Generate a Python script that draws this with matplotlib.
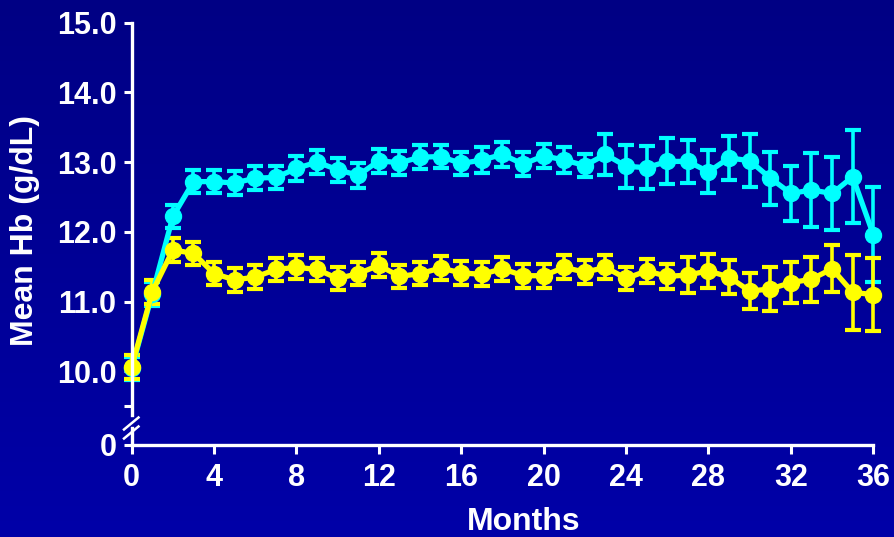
import numpy as np
import matplotlib
matplotlib.use("Agg")
import matplotlib.pyplot as plt
from matplotlib.colors import LinearSegmentedColormap
from matplotlib.lines import Line2D

# ---- data -------------------------------------------------------------
months = list(range(37))

hb_cyan = [10.04, 11.11, 12.22, 12.72, 12.72, 12.70, 12.77, 12.78, 12.91, 13.00,
           12.89, 12.81, 13.02, 12.99, 13.07, 13.08, 12.98, 13.03, 13.11, 12.97,
           13.09, 13.03, 12.95, 13.11, 12.94, 12.92, 13.01, 13.01, 12.86, 13.06,
           13.02, 12.77, 12.55, 12.60, 12.55, 12.79, 11.96]
err_cyan = [0.17, 0.17, 0.17, 0.17, 0.17, 0.17, 0.17, 0.17, 0.18, 0.17,
            0.17, 0.18, 0.17, 0.17, 0.17, 0.17, 0.17, 0.18, 0.18, 0.17,
            0.17, 0.18, 0.17, 0.30, 0.31, 0.31, 0.33, 0.31, 0.31, 0.32,
            0.38, 0.38, 0.39, 0.53, 0.53, 0.67, 0.68]

hb_yellow = [10.06, 11.14, 11.74, 11.69, 11.40, 11.31, 11.35, 11.46, 11.49, 11.46,
             11.33, 11.40, 11.52, 11.36, 11.40, 11.48, 11.41, 11.39, 11.47, 11.37,
             11.37, 11.49, 11.42, 11.49, 11.33, 11.44, 11.36, 11.38, 11.44, 11.35,
             11.15, 11.18, 11.27, 11.32, 11.47, 11.13, 11.10]
err_yellow = [0.17, 0.17, 0.17, 0.17, 0.17, 0.17, 0.17, 0.17, 0.17, 0.17,
              0.17, 0.17, 0.17, 0.17, 0.17, 0.17, 0.17, 0.17, 0.17, 0.17,
              0.17, 0.17, 0.17, 0.17, 0.17, 0.17, 0.18, 0.26, 0.24, 0.24,
              0.26, 0.32, 0.29, 0.32, 0.34, 0.54, 0.52]

y_ticks = [9.5, 10, 11, 12, 13, 14, 15]
y_tick_labels = ["", "10.0", "11.0", "12.0", "13.0", "14.0", "15.0"]
x_ticks = list(range(0, 37, 4))

CYAN = "#00FFFF"
YELLOW = "#FFFF00"
WHITE = "#FFFFFF"

plt.rcParams["font.family"] = ["Liberation Sans", "DejaVu Sans"]
plt.rcParams["font.weight"] = "bold"

W, H = 895, 537
fig = plt.figure(figsize=(W / 100, H / 100), dpi=100)


def px_box(x0, y0, x1, y1):
    """Axes rectangle from pixel edges (origin at top-left)."""
    return [x0 / W, 1 - y1 / H, (x1 - x0) / W, (y1 - y0) / H]


# slide-style vertical gradient background
bg = fig.add_axes([0, 0, 1, 1], zorder=-10)
grad = np.linspace(0, 1, 256).reshape(-1, 1)
cmap = LinearSegmentedColormap.from_list("slide", ["#000084", "#0000A8"])
bg.imshow(grad, aspect="auto", cmap=cmap, extent=[0, 1, 0, 1], origin="upper")
bg.set_axis_off()

# axis geometry (pixels)
X0, X1 = 131.7, 873.3
Y_TOP = 22.7            # y of 15.0
PX_PER_UNIT = 69.7
Y_TOP_END = 415.0       # lower end of the upper (Hb) axis
Y_ZERO_START, Y_ZERO = 428.0, 445.0

top_ylim_low = 15.0 - (Y_TOP_END - Y_TOP) / PX_PER_UNIT

ax = fig.add_axes(px_box(X0, Y_TOP, X1, Y_TOP_END), zorder=2)
ax0 = fig.add_axes(px_box(X0, Y_ZERO_START, X1, Y_ZERO), zorder=1)

for a in (ax, ax0):
    a.set_facecolor("none")
    a.set_xlim(0, 36)
    for s in a.spines.values():
        s.set_color(WHITE)
        s.set_linewidth(2.4)
    a.tick_params(colors=WHITE, labelcolor=WHITE, direction="out",
                  length=6, width=2.2, labelsize=22, pad=5)

# upper axis: Hb values
ax.set_ylim(top_ylim_low, 15.0)
ax.set_yticks(y_ticks)
ax.set_yticklabels(y_tick_labels)
ax.spines["top"].set_visible(False)
ax.spines["right"].set_visible(False)
ax.spines["bottom"].set_visible(False)
ax.tick_params(axis="x", bottom=False, labelbottom=False)

# lower stub: zero and the month axis
ax0.set_ylim(0, 1)
ax0.set_yticks([0])
ax0.set_yticklabels(["0"])
ax0.spines["top"].set_visible(False)
ax0.spines["right"].set_visible(False)
ax0.set_xticks(x_ticks)
ax0.set_xticklabels([str(t) for t in x_ticks])
ax0.tick_params(axis="x", length=6.5, pad=6.5)

# series
for vals, errs, col in ((hb_cyan, err_cyan, CYAN), (hb_yellow, err_yellow, YELLOW)):
    cont = ax.errorbar(months, vals, yerr=errs, color=col, ecolor=col,
                       lw=3.8, marker="o", ms=11.5, mec=col, mfc=col,
                       elinewidth=2.6, capsize=6, capthick=3)
    for art in cont.get_children():
        art.set_clip_on(False)

# axis break marks
for dy in (0.0, 9.0):
    fig.add_artist(Line2D([124 / W, 138.5 / W],
                          [1 - (429.5 + dy) / H, 1 - (417.5 + dy) / H],
                          color=WHITE, lw=1.8))

fig.text(25 / W, 1 - 231 / H, "Mean Hb (g/dL)", rotation=90, color=WHITE,
         fontsize=23, fontweight="bold", ha="center", va="center")
fig.text(524 / W, 1 - 522 / H, "Months", color=WHITE,
         fontsize=23, fontweight="bold", ha="center", va="center")

fig.savefig("out.png", dpi=100)
